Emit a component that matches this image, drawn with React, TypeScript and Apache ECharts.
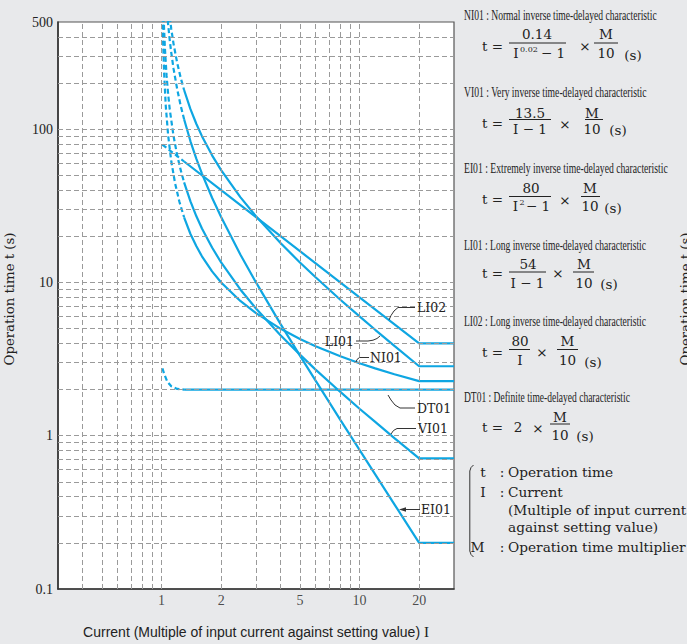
import React, { useEffect, useRef } from 'react';
import * as echarts from 'echarts';

// ---------- data ----------
const xTickLabels = [1, 2, 5, 10, 20];
const xGridValues = [0.4, 0.5, 0.6, 0.7, 0.8, 0.9, 1, 2, 3, 4, 5, 6, 7, 8, 9, 10, 20];
const yGridValues = [0.2, 0.3, 0.4, 0.5, 0.6, 0.7, 0.8, 0.9, 1, 2, 3, 4, 5, 6, 7, 8, 9, 10, 20, 30, 40, 50, 60, 70, 80, 90, 100, 200, 300, 400];

const solidI = [1.3, 1.4, 1.5, 1.6, 1.8, 2, 2.5, 3, 4, 5, 6, 8, 10, 12, 15, 20, 30];

const niDashI = [1.013, 1.02, 1.03, 1.05, 1.08, 1.12, 1.17, 1.23, 1.3];
const niDashT = [542, 353, 237, 143, 91, 61.7, 44.5, 33.7, 26.6];
const niSolidT = [26.6, 20.7, 17.2, 14.8, 11.8, 10.0, 7.57, 6.3, 4.98, 4.28, 3.84, 3.3, 2.97, 2.75, 2.52, 2.27, 2.27];

const viDashI = [1.025, 1.03, 1.04, 1.06, 1.08, 1.1, 1.15, 1.2, 1.25, 1.3];
const viDashT = [540, 450, 338, 225, 169, 135, 90, 67.5, 54, 45];
const viSolidT = [45, 33.8, 27, 22.5, 16.9, 13.5, 9, 6.75, 4.5, 3.38, 2.7, 1.93, 1.5, 1.23, 0.964, 0.711, 0.711];

const eiDashI = [1.075, 1.08, 1.1, 1.12, 1.15, 1.2, 1.25, 1.3];
const eiDashT = [514, 481, 381, 315, 248, 182, 142, 116];
const eiSolidT = [116, 83.3, 64, 51.3, 35.7, 26.7, 15.2, 10, 5.33, 3.33, 2.29, 1.27, 0.808, 0.559, 0.357, 0.2, 0.2];

const li1DashI = [1.1, 1.12, 1.15, 1.2, 1.25, 1.3];
const li1DashT = [540, 450, 360, 270, 216, 180];
const li1SolidT = [180, 135, 108, 90, 67.5, 54, 36, 27, 18, 13.5, 10.8, 7.71, 6, 4.91, 3.86, 2.84, 2.84];

const li2DashI = [1.01, 1.1, 1.2, 1.3];
const li2DashT = [79.2, 72.7, 66.7, 61.5];
const li2SolidI = [1.3, 2, 3, 5, 10, 20, 30];
const li2SolidT = [61.5, 40, 26.7, 16, 8, 4, 4];

const dtDashI = [1.01, 1.035, 1.07, 1.12, 1.2, 1.3];
const dtDashT = [2.75, 2.5, 2.25, 2.1, 2.02, 2];
const dtSolidI = [1.3, 30];
const dtSolidT = [2, 2];

const titles = [
  { text: 'NI01 : Normal inverse time-delayed characteristic', y: 15, w: 193 },
  { text: 'VI01 : Very inverse time-delayed characteristic', y: 92, w: 183 },
  { text: 'EI01 : Extremely inverse time-delayed characteristic', y: 168, w: 204 },
  { text: 'LI01 : Long inverse time-delayed characteristic', y: 245, w: 182 },
  { text: 'LI02 : Long inverse time-delayed characteristic', y: 321, w: 182 },
  { text: 'DT01 : Definite time-delayed characteristic', y: 397, w: 166 },
];

const legendLines = [
  { sym: 't', text: 'Operation time', y: 472 },
  { sym: 'I', text: 'Current', y: 492 },
  { sym: '', text: '(Multiple of input current', y: 510 },
  { sym: '', text: 'against setting value)', y: 527 },
  { sym: 'M', text: 'Operation time multiplier', y: 547 },
];

const yAxisTitle = 'Operation time t (s)';

// ---------- styling ----------
const W = 687;
const H = 644;
const BLUE = '#0ea6e2';
const SERIF = '"Liberation Serif", "Times New Roman", serif';
const WIDE = '"DejaVu Serif", serif';
const SANS = '"Liberation Sans", Arial, sans-serif';
const INK = '#222';
const LEADER = '#333';

const zip = (xs: number[], ys: number[]) => xs.map((x, i) => [x, ys[i]]);

function curve(name: string, dI: number[], dT: number[], sI: number[], sT: number[]) {
  return [
    {
      type: 'line', name: name + ' (dashed)', data: zip(dI, dT), symbol: 'none', silent: true, z: 3,
      lineStyle: { color: BLUE, width: 2.2, type: [5, 3] },
    },
    {
      type: 'line', name, data: zip(sI, sT), symbol: 'none', silent: true, z: 3,
      lineStyle: { color: BLUE, width: 2.2 },
    },
  ];
}

function txt(x: number, y: number, text: string, size: number, align = 'left', extra: any = {}, family = WIDE, fill = INK) {
  return {
    type: 'text', x, y, silent: true, z: 10, ...extra,
    style: { text, fontFamily: family, fontSize: size, fill, align, verticalAlign: 'middle' },
  };
}
function hline(x1: number, x2: number, y: number, w = 1, color = INK) {
  return { type: 'line', silent: true, z: 10, shape: { x1, y1: y, x2, y2: y }, style: { stroke: color, lineWidth: w } };
}
function poly(points: number[][], w = 1) {
  return { type: 'polyline', silent: true, z: 10, shape: { points }, style: { stroke: LEADER, lineWidth: w, fill: null } };
}

function measure(text: string, font: string) {
  const c = document.createElement('canvas').getContext('2d');
  if (!c) return text.length * 7;
  c.font = font;
  return c.measureText(text).width;
}

function buildGraphic() {
  const g: any[] = [];
  titles.forEach((t) => {
    const w = measure(t.text, `15px ${SERIF}`);
    g.push(txt(464, t.y, t.text, 15, 'left', { scaleX: t.w / w }, SERIF));
  });
  const F = 13.5;
  // NI01
  g.push(txt(482, 45.5, 't =', F));
  g.push(txt(537, 33.5, '0.14', F, 'center'));
  g.push(hline(509, 566, 43));
  g.push(txt(516, 53, 'I', F, 'center'));
  g.push(txt(520, 49.5, '0.02', 8, 'left'));
  g.push(txt(541, 53, '− 1', F, 'left'));
  g.push(txt(585, 46, '×', F, 'center'));
  g.push(txt(606, 33.5, 'M', F, 'center'));
  g.push(hline(594, 618, 43));
  g.push(txt(606, 53, '10', F, 'center'));
  g.push(txt(633, 55, '(s)', F, 'center'));
  // VI01
  g.push(txt(482, 123, 't =', F));
  g.push(txt(530, 112.5, '13.5', F, 'center'));
  g.push(hline(509, 551, 119.5));
  g.push(txt(530, 128.5, 'I − 1', F, 'center'));
  g.push(txt(565, 123.5, '×', F, 'center'));
  g.push(txt(592, 112.5, 'M', F, 'center'));
  g.push(hline(585, 603, 119.5));
  g.push(txt(592, 128.5, '10', F, 'center'));
  g.push(txt(618, 130, '(s)', F, 'center'));
  // EI01
  g.push(txt(482, 199, 't =', F));
  g.push(txt(531, 188, '80', F, 'center'));
  g.push(hline(509, 551, 196.5));
  g.push(txt(515.5, 206, 'I', F, 'center'));
  g.push(txt(519.5, 202, '2', 8, 'left'));
  g.push(txt(526, 206, '− 1', F, 'left'));
  g.push(txt(565, 199.5, '×', F, 'center'));
  g.push(txt(590, 188, 'M', F, 'center'));
  g.push(hline(581, 600, 196.5));
  g.push(txt(590, 206, '10', F, 'center'));
  g.push(txt(613, 208, '(s)', F, 'center'));
  // LI01
  g.push(txt(482, 273, 't =', F));
  g.push(txt(528, 264, '54', F, 'center'));
  g.push(hline(509, 546, 272));
  g.push(txt(527.5, 282.5, 'I − 1', F, 'center'));
  g.push(txt(558, 273, '×', F, 'center'));
  g.push(txt(584, 264, 'M', F, 'center'));
  g.push(hline(573, 594, 272));
  g.push(txt(584, 282.5, '10', F, 'center'));
  g.push(txt(609, 284, '(s)', F, 'center'));
  // LI02
  g.push(txt(482, 351.5, 't =', F));
  g.push(txt(520, 341, '80', F, 'center'));
  g.push(hline(509, 530, 349.5));
  g.push(txt(520, 359.5, 'I', F, 'center'));
  g.push(txt(542, 351.5, '×', F, 'center'));
  g.push(txt(567.5, 341, 'M', F, 'center'));
  g.push(hline(557, 578, 349.5));
  g.push(txt(567.5, 359.5, '10', F, 'center'));
  g.push(txt(593, 362, '(s)', F, 'center'));
  // DT01
  g.push(txt(482, 427, 't =', F));
  g.push(txt(518, 427, '2', F, 'center'));
  g.push(txt(538, 427.5, '×', F, 'center'));
  g.push(txt(560, 416.5, 'M', F, 'center'));
  g.push(hline(550, 570, 424));
  g.push(txt(560, 435, '10', F, 'center'));
  g.push(txt(585, 436, '(s)', F, 'center'));
  // legend block
  legendLines.forEach((l) => {
    if (l.sym) g.push(txt(l.sym === 'M' ? 477.5 : 483, l.y, l.sym, 13.7, 'center'));
    if (l.sym) g.push(txt(502, l.y, ':', 13.7, 'center'));
    g.push(txt(508, l.y, l.text, 13.7, 'left'));
  });
  g.push(poly([[473.5, 465], [471, 467.5], [469.8, 471], [469.8, 551], [471, 554.5], [473.5, 557]], 1));

  // curve labels with leader lines
  const L = 12.5;
  g.push(poly([[389, 320], [391, 315.5], [394, 311], [398, 307.5], [415, 307.5]]));
  g.push(txt(417, 307, 'LI02', L));
  g.push(poly([[356, 341], [368, 341], [373, 340.2], [377, 338.5], [380, 336]]));
  g.push(txt(354, 341, 'LI01', L, 'right'));
  g.push(poly([[356, 362], [357, 359.5], [359.5, 357.5], [369, 357.5]]));
  g.push(txt(370, 357, 'NI01', L));
  g.push(poly([[388, 395], [391, 400], [395, 405], [400, 408], [415, 408]]));
  g.push(txt(417, 408, 'DT01', L));
  g.push(poly([[391, 434], [393.5, 430.5], [397, 428.5], [416, 428.5]]));
  g.push(txt(418, 428, 'VI01', L));
  g.push(hline(402, 420, 509.5, 1, LEADER));
  g.push({ type: 'polygon', silent: true, z: 10, shape: { points: [[399, 509.5], [406, 507.3], [406, 511.7]] }, style: { fill: LEADER } });
  g.push(txt(421, 509, 'EI01', L));

  // axis titles (left, and the duplicate cut by the page edge at the right as in the reference)
  g.push(txt(9, 299, yAxisTitle, 13.3, 'center', { rotation: Math.PI / 2 }));
  g.push(txt(685, 299, yAxisTitle, 13.3, 'center', { rotation: Math.PI / 2 }));
  return g;
}

export default function App() {
  const ref = useRef<HTMLDivElement>(null);
  useEffect(() => {
    if (!ref.current) return;
    const chart = echarts.init(ref.current, null, { renderer: 'svg', width: W, height: H });
    const option: any = {
      animation: false,
      backgroundColor: '#e8e9eb',
      grid: {
        left: 58, top: 22, width: 396, bottom: 52, show: true,
        backgroundColor: '#ffffff', borderColor: '#555', borderWidth: 1.2, containLabel: false,
      },
      xAxis: {
        type: 'log', logBase: 10, min: 0.3, max: 30,
        axisLine: { show: true, lineStyle: { color: '#333', width: 1.6 } },
        axisTick: { show: false }, axisLabel: { show: false }, splitLine: { show: false },
        name: '{a|Current (Multiple of input current against setting value) }{b|I}',
        nameLocation: 'middle', nameGap: 35,
        nameTextStyle: {
          rich: {
            a: { fontFamily: SANS, fontSize: 14, color: INK },
            b: { fontFamily: SERIF, fontSize: 15, color: INK },
          },
        },
      },
      yAxis: {
        type: 'log', logBase: 10, min: 0.1, max: 500,
        axisLine: { show: true, lineStyle: { color: '#333', width: 1.6 } },
        axisTick: { show: false }, splitLine: { show: false },
        axisLabel: {
          fontFamily: SERIF, fontSize: 14, color: INK, margin: 5,
          formatter: (v: number) => (v < 1 ? v.toFixed(1) : String(Math.round(v))),
        },
      },
      series: [
        {
          type: 'line', data: [[1, 1]], symbol: 'none', silent: true, z: 1,
          lineStyle: { width: 0, opacity: 0 },
          markLine: {
            silent: true, symbol: ['none', 'none'], label: { show: false },
            lineStyle: { color: '#9a9a9a', width: 1, type: [5, 3] },
            emphasis: { disabled: true },
            data: [
              ...xGridValues.map((v) => ({ xAxis: v })),
              ...yGridValues.map((v) => ({ yAxis: v })),
            ],
          },
        },
        {
          type: 'scatter', data: xTickLabels.map((v) => [v, 0.1]), symbolSize: 1, clip: false, silent: true,
          itemStyle: { color: 'rgba(0,0,0,0)' },
          label: {
            show: true, position: 'bottom', distance: 4,
            fontFamily: SERIF, fontSize: 14, color: INK,
            formatter: (p: any) => String(p.value[0]),
          },
        },
        ...curve('NI01', niDashI, niDashT, solidI, niSolidT),
        ...curve('VI01', viDashI, viDashT, solidI, viSolidT),
        ...curve('EI01', eiDashI, eiDashT, solidI, eiSolidT),
        ...curve('LI01', li1DashI, li1DashT, solidI, li1SolidT),
        ...curve('LI02', li2DashI, li2DashT, li2SolidI, li2SolidT),
        ...curve('DT01', dtDashI, dtDashT, dtSolidI, dtSolidT),
      ],
      graphic: buildGraphic(),
    };
    chart.setOption(option);
    return () => chart.dispose();
  }, []);
  return (
    <div
      ref={ref}
      style={{ position: 'fixed', left: 0, top: 0, width: W, height: H, background: '#e8e9eb' }}
    />
  );
}
